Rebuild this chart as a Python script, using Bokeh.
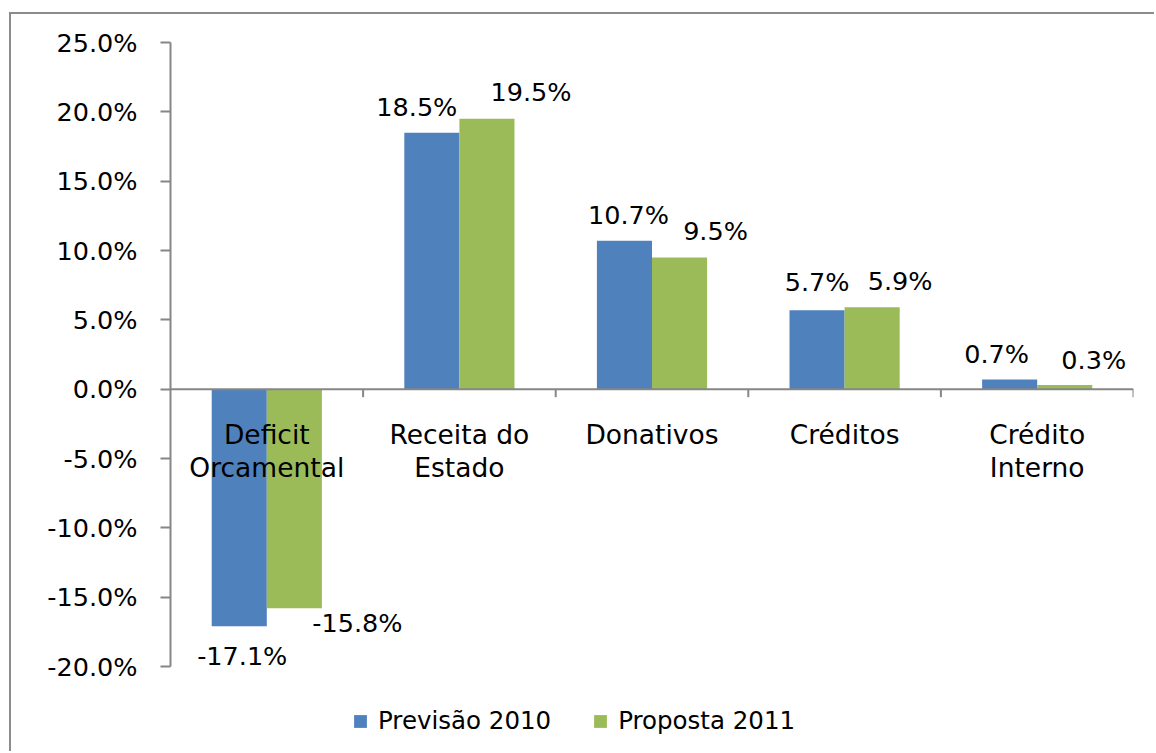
from bokeh.plotting import figure
from bokeh.models import (ColumnDataSource, FactorRange, Range1d, FixedTicker,
                          PrintfTickFormatter, Span, Legend, LegendItem, LabelSet)
from bokeh.transform import dodge
from bokeh.core.properties import value
from bokeh.embed import file_html
from bokeh.resources import INLINE

# ---------------- data ----------------
categories = ["Deficit Orcamental", "Receita do Estado", "Donativos", "Créditos", "Crédito Interno"]
category_labels = ["Deficit\nOrcamental", "Receita do\nEstado", "Donativos", "Créditos", "Crédito\nInterno"]
series_names = ["Previsão 2010", "Proposta 2011"]
previsao_2010 = [-17.1, 18.5, 10.7, 5.7, 0.7]
proposta_2011 = [-15.8, 19.5, 9.5, 5.9, 0.3]
y_ticks = [-20, -15, -10, -5, 0, 5, 10, 15, 20, 25]

# ---------------- style ----------------
FONT = "DejaVu Sans"
FS_NUM = "25.5px"
FS_CAT = "26.5px"
FS_LEG = "24.5px"
BLUE = "#4F81BD"
GREEN = "#9BBB59"
AXIS = "#868686"
FRAME_W = 963
AXIS_PX = 624              # pixel height of the -20%..25% axis span
LEGEND_PX = 84             # extra room under the axis for the legend
Y_MIN, Y_MAX = -20, 25
PX_PER_UNIT = AXIS_PX / (Y_MAX - Y_MIN)
Y_VIEW_MIN = Y_MIN - LEGEND_PX / PX_PER_UNIT
BAR_W = 0.286
# manual label nudges (screen px, y up), like the hand-placed labels of the original
prev_dx = [3, -15, 4, 0, -13]
prev_dy = [-30, 26, 26, 28, 25]
prop_dx = [63, 44, 36, 28, 29]
prop_dy = [-15, 27, 26, 26, 25]

def fmt(v):
    return "%.1f%%" % v

src_prev = ColumnDataSource(dict(cat=categories, val=previsao_2010,
                                 lab=[fmt(v) for v in previsao_2010],
                                 dx=prev_dx, dy=prev_dy))
src_prop = ColumnDataSource(dict(cat=categories, val=proposta_2011,
                                 lab=[fmt(v) for v in proposta_2011],
                                 dx=prop_dx, dy=prop_dy))
src_cat = ColumnDataSource(dict(cat=categories, lab=category_labels,
                                y0=[0] * len(categories)))

p = figure(x_range=FactorRange(*categories), y_range=Range1d(Y_VIEW_MIN, Y_MAX),
           frame_width=FRAME_W, frame_height=AXIS_PX + LEGEND_PX,
           min_border_left=159, min_border_right=21,
           min_border_top=28, min_border_bottom=1,
           output_backend="svg", toolbar_location=None,
           background_fill_color="white", border_fill_color="white")
# outer chart-area border: visible on left/top, runs past right/bottom edges
p.styles = {"margin-left": "9px", "margin-top": "12px",
            "border-left": "2px solid #8c8c8c", "border-top": "2px solid #8c8c8c"}
p.outline_line_color = None
p.xgrid.visible = False
p.ygrid.visible = False
p.xaxis.visible = False

yax = p.yaxis[0]
yax.bounds = (Y_MIN, Y_MAX)
yax.ticker = FixedTicker(ticks=y_ticks)
yax.formatter = PrintfTickFormatter(format="%.1f%%")
yax.axis_line_color = AXIS
yax.axis_line_width = 2
yax.major_tick_line_color = AXIS
yax.major_tick_line_width = 2
yax.major_tick_out = 10
yax.major_tick_in = 0
yax.minor_tick_line_color = None
yax.major_label_standoff = 23
yax.major_label_text_font = FONT
yax.major_label_text_font_size = FS_NUM
yax.major_label_text_color = "black"

r1 = p.vbar(x=dodge("cat", -BAR_W / 2, range=p.x_range), top="val", width=BAR_W,
            source=src_prev, fill_color=BLUE, line_color=None)
r2 = p.vbar(x=dodge("cat", BAR_W / 2, range=p.x_range), top="val", width=BAR_W,
            source=src_prop, fill_color=GREEN, line_color=None)

# zero line and category boundary ticks
p.add_layout(Span(location=0, dimension="width", line_color=AXIS, line_width=2))
tick_len = 8 / PX_PER_UNIT
p.segment(x0=dodge("cat", 0.5, range=p.x_range), x1=dodge("cat", 0.5, range=p.x_range),
          y0="y0", y1=-tick_len, source=src_cat, line_color=AXIS, line_width=2)

# category labels under the zero line
p.text(x="cat", y="y0", text="lab", source=src_cat, text_align="center",
       text_baseline="top", y_offset=30, text_line_height=1.07,
       text_font=value(FONT), text_font_size=FS_CAT, text_color="black")

# value labels
for src, off in ((src_prev, -BAR_W / 2), (src_prop, BAR_W / 2)):
    p.add_layout(LabelSet(x=dodge("cat", off, range=p.x_range), y="val", text="lab",
                          source=src, x_offset="dx", y_offset="dy",
                          text_align="center", text_baseline="middle",
                          text_font=value(FONT), text_font_size=FS_NUM,
                          text_color="black"))

legend = Legend(items=[LegendItem(label=series_names[0], renderers=[r1]),
                       LegendItem(label=series_names[1], renderers=[r2])],
                orientation="horizontal", location=(182, 15),
                glyph_width=16, glyph_height=16, label_standoff=10, spacing=41,
                padding=0, margin=0, border_line_color=None,
                background_fill_alpha=0,
                label_text_font=FONT, label_text_font_size=FS_LEG,
                label_text_color="black")
p.add_layout(legend)

open("out.html", "w").write(file_html(p, INLINE))
